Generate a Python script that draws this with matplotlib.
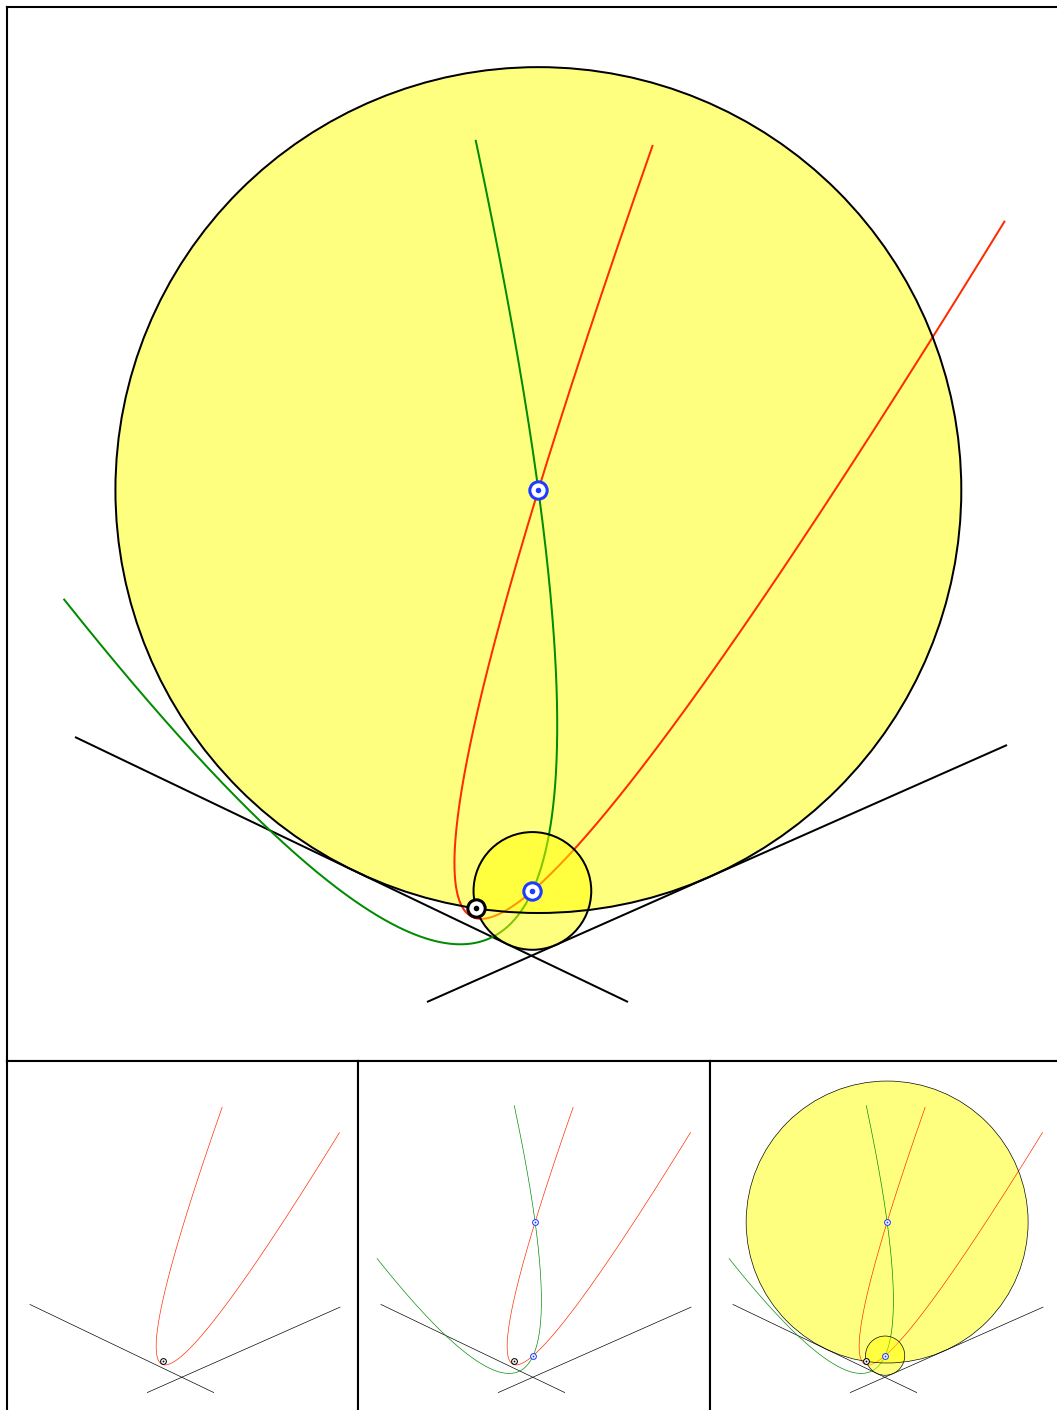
import numpy as np
import matplotlib
matplotlib.use("Agg")
import matplotlib.pyplot as plt
from matplotlib.patches import Circle

# ---- data (main-panel pixel coordinates, y downward) ----
line1 = [(75, 737), (628, 1002)]
line2 = [(427, 1002), (1007, 745)]
point_P = (476.2, 908.4)
red_arm_ends = [(654, 143), (1005, 226)]     # parabola: focus P, directrix line1
green_arm_ends = [(475, 142), (62, 600)]     # parabola: focus P, directrix line2

RED = '#ff2a00'
GREEN = '#008c00'
BLUE = '#1e3cff'

W, H = 1057, 1410
fig = plt.figure(figsize=(W / 100, H / 100), dpi=100)


def add_ax(x0, y0, x1, y1):
    ax = fig.add_axes([x0 / W, 1 - y1 / H, (x1 - x0) / W, (y1 - y0) / H])
    ax.set_xticks([]); ax.set_yticks([])
    return ax


def parabola(P, L, ends, n=4000):
    A, B = np.array(L[0], float), np.array(L[1], float)
    t = (B - A) / np.linalg.norm(B - A)
    P = np.array(P, float)
    F = A + np.dot(P - A, t) * t
    d0 = np.linalg.norm(P - F)
    nvec = (P - F) / d0
    u = np.linspace(-2000, 2000, n)
    v = (u ** 2 + d0 ** 2) / (2 * d0)
    pts = F[None, :] + u[:, None] * t[None, :] + v[:, None] * nvec[None, :]
    idx = []
    for e in ends:
        d = np.hypot(pts[:, 0] - e[0], pts[:, 1] - e[1])
        idx.append(int(np.argmin(d)))
    i0, i1 = min(idx), max(idx)
    pts = pts[i0:i1 + 1]
    return pts[:, 0], pts[:, 1]


def circles(P, L1, L2):
    A1, B1 = np.array(L1[0], float), np.array(L1[1], float)
    A2, B2 = np.array(L2[0], float), np.array(L2[1], float)
    d1, d2 = B1 - A1, B2 - A2
    s = np.linalg.solve(np.column_stack([d1, -d2]), A2 - A1)
    X = A1 + s[0] * d1
    u1 = -d1 / np.linalg.norm(d1)
    u2 = d2 / np.linalg.norm(d2)
    b = u1 + u2
    b /= np.linalg.norm(b)
    sn = np.sqrt(1 - np.dot(b, u1) ** 2)
    P = np.array(P, float)
    w = X - P
    a = 1 - sn ** 2
    bb = 2 * np.dot(w, b)
    c = np.dot(w, w)
    disc = np.sqrt(bb ** 2 - 4 * a * c)
    res = []
    for tt in [(-bb + disc) / (2 * a), (-bb - disc) / (2 * a)]:
        res.append((X + tt * b, tt * sn))
    return res


def draw(ax, scale, show_green, show_circles):
    lw = 2.0 * 0.72 / scale
    for L in (line1, line2):
        ax.plot([L[0][0], L[1][0]], [L[0][1], L[1][1]], color='black', lw=lw,
                solid_capstyle='butt', zorder=2)
    xr, yr = parabola(point_P, line1, red_arm_ends)
    ax.plot(xr, yr, color=RED, lw=lw, zorder=3)
    if show_green:
        xg, yg = parabola(point_P, line2, green_arm_ends)
        ax.plot(xg, yg, color=GREEN, lw=lw, zorder=3)
    cs = circles(point_P, line1, line2)
    if show_circles:
        for k, (c, r) in enumerate(cs):
            z = 1 if k == 0 else 4
            ax.add_patch(Circle(c, r, facecolor=(1, 1, 0, 0.5), edgecolor='none', zorder=z))
            ax.add_patch(Circle(c, r, facecolor='none', edgecolor='black', lw=lw, zorder=4.5))
    ms_out = 12.5 / scale
    mew = 2.2 / scale
    ms_in = 4.0 / scale
    if show_green:
        for c, r in cs:
            ax.plot([c[0]], [c[1]], 'o', ms=ms_out, mfc='white', mec=BLUE, mew=mew, zorder=6)
            ax.plot([c[0]], [c[1]], 'o', ms=ms_in, mfc=BLUE, mec='none', zorder=7)
    ax.plot([point_P[0]], [point_P[1]], 'o', ms=ms_out, mfc='white', mec='black', mew=mew, zorder=6)
    ax.plot([point_P[0]], [point_P[1]], 'o', ms=ms_in, mfc='black', mec='none', zorder=7)


def frame(ax, lw):
    for sp in ax.spines.values():
        sp.set_linewidth(lw)


# main panel
ax0 = add_ax(7, 7, 1060, 1061)
ax0.set_xlim(7, 1060); ax0.set_ylim(1061, 7)
draw(ax0, 1, True, True)
frame(ax0, 1.5)

# small panels (1/3 scale)
edges = [7, 358, 710, 1062]
for i in range(3):
    ax = add_ax(edges[i], 1061, edges[i + 1], 1412)
    w = edges[i + 1] - edges[i]
    ax.set_xlim(7, 7 + 3 * w); ax.set_ylim(7 + 3 * 351, 7)
    draw(ax, 3, i >= 1, i >= 2)
    frame(ax, 1.5)

fig.savefig('out.png', dpi=100)
